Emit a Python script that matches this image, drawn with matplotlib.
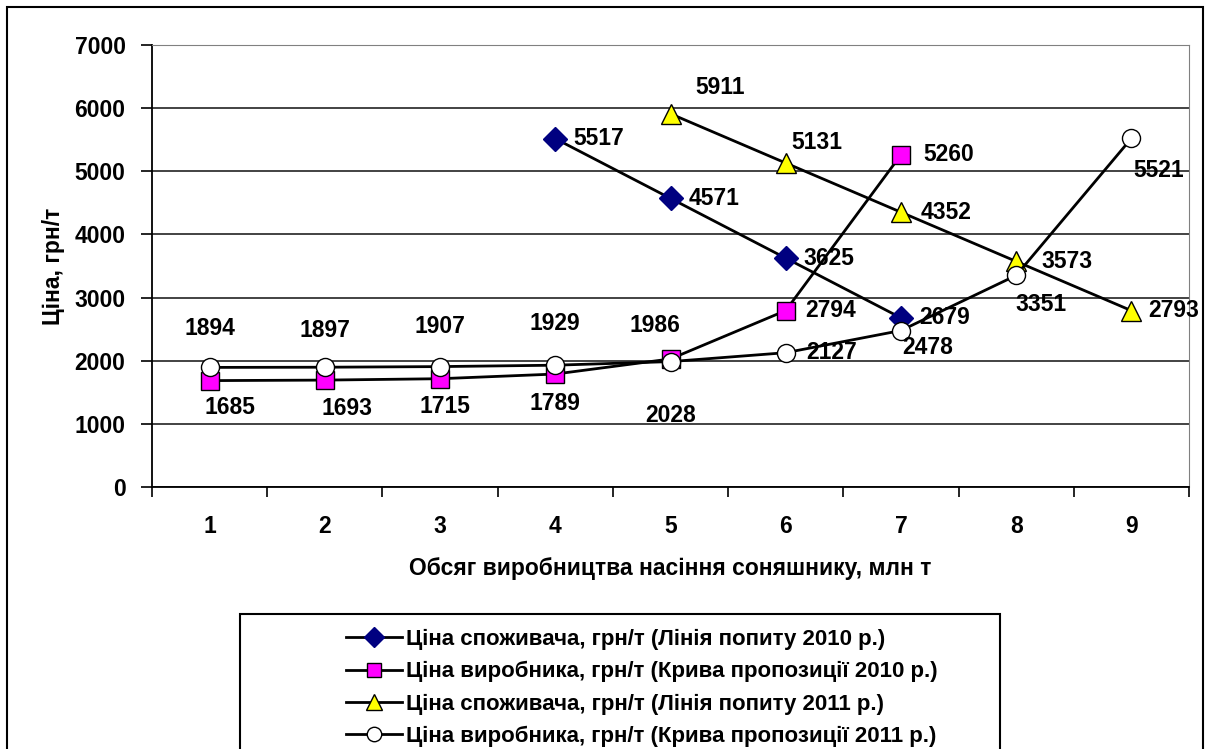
import numpy as np
import matplotlib.pyplot as plt
from matplotlib.patches import Rectangle

plt.rcParams['font.family'] = ['Liberation Sans', 'DejaVu Sans']
plt.rcParams['font.weight'] = 'bold'

# Дані
obsyag = [1, 2, 3, 4, 5, 6, 7, 8, 9]
nan = np.nan
popyt_2010 = [nan, nan, nan, 5517, 4571, 3625, 2679, nan, nan]
propoz_2010 = [1685, 1693, 1715, 1789, 2028, 2794, 5260, nan, nan]
popyt_2011 = [nan, nan, nan, nan, 5911, 5131, 4352, 3573, 2793]
propoz_2011 = [1894, 1897, 1907, 1929, 1986, 2127, 2478, 3351, 5521]

nazvy = ['Ціна споживача, грн/т (Лінія попиту 2010 р.)',
         'Ціна виробника, грн/т (Крива пропозиції 2010 р.)',
         'Ціна споживача, грн/т (Лінія попиту 2011 р.)',
         'Ціна виробника, грн/т (Крива пропозиції 2011 р.)']

# Зміщення підписів (пікселі) та вирівнювання
zsuv_popyt_2010 = [None, None, None, (18, 0, 'left')] + [(18, 0, 'left')] * 3 + [None, None]
zsuv_propoz_2010 = [(20, -27, 'center'), (22, -28, 'center'), (5, -28, 'center'), (0, -29, 'center'),
                    (0, -57, 'center'), (20, 0, 'left'), (22, 0, 'left'), None, None]
zsuv_popyt_2011 = [None] * 4 + [(50, 26, 'center'), (31, 21, 'center'), (20, 0, 'left'),
                                (25, 0, 'left'), (17, 0, 'left')]
zsuv_propoz_2011 = [(0, 39, 'center'), (0, 37, 'center'), (0, 40, 'center'), (0, 42, 'center'),
                    (-16, 36, 'center'), (21, 0, 'left'), (27, -17, 'center'), (25, -29, 'center'),
                    (27, -32, 'center')]

fig = plt.figure(figsize=(12.09, 7.49), dpi=100)
ax = fig.add_axes([152 / 1209, 1 - 487 / 749, (1189 - 152) / 1209, (487 - 45) / 749])

# Рамка навколо всієї діаграми
fig.patches.append(Rectangle((7 / 1209, -0.05), (1203 - 7) / 1209, 1.05 - 7 / 749,
                             transform=fig.transFigure, fill=False, edgecolor='black', lw=1.5))

serii = [
    (popyt_2010, dict(marker='D', markersize=12.5, markerfacecolor='#000080', markeredgecolor='#000080'), zsuv_popyt_2010),
    (propoz_2010, dict(marker='s', markersize=13, markerfacecolor='#FF00FF', markeredgecolor='black'), zsuv_propoz_2010),
    (popyt_2011, dict(marker='^', markersize=14, markerfacecolor='#FFFF00', markeredgecolor='black'), zsuv_popyt_2011),
    (propoz_2011, dict(marker='o', markersize=13, markerfacecolor='white', markeredgecolor='black'), zsuv_propoz_2011),
]

liniyi = []
for (dani, styl, zsuvy), nazva in zip(serii, nazvy):
    l, = ax.plot(obsyag, dani, color='black', lw=2, markeredgewidth=1, label=nazva, **styl)
    liniyi.append(l)
    for x, y, z in zip(obsyag, dani, zsuvy):
        if z is None or np.isnan(y):
            continue
        ax.annotate(f'{int(y)}', (x, y), xytext=(z[0], z[1]), textcoords='offset pixels',
                    ha=z[2], va='center', fontsize=16.5, fontweight='bold')

ax.set_xlim(0.5, 9.5)
ax.set_ylim(0, 7000)
ax.set_yticks(range(0, 7001, 1000))
ax.set_xticks(np.arange(0.5, 9.6, 1))
ax.set_xticklabels([])
ax.set_xticks(obsyag, minor=True)
ax.set_xticklabels([str(v) for v in obsyag], minor=True)
ax.tick_params(axis='x', which='major', direction='out', length=7, width=1.2)
ax.tick_params(axis='x', which='minor', length=0, pad=20, labelsize=16.5)
ax.tick_params(axis='y', direction='out', length=8, width=1.2, pad=11, labelsize=16.5)
for lab in ax.get_xticklabels(minor=True) + ax.get_yticklabels():
    lab.set_fontweight('bold')

ax.yaxis.grid(True, color='#222222', lw=1.2)
ax.set_axisbelow(True)
ax.spines['top'].set_color('#808080')
ax.spines['right'].set_color('#808080')
ax.spines['left'].set_linewidth(1.3)
ax.spines['bottom'].set_linewidth(1.3)

ax.set_xlabel('Обсяг виробництва насіння соняшнику, млн т', fontsize=16.5, fontweight='bold', labelpad=14)
ax.set_ylabel('Ціна, грн/т', fontsize=16.5, fontweight='bold', labelpad=7)

# Легенда
fig.patches.append(Rectangle((240 / 1209, -0.05), (1000 - 240) / 1209, 0.05 + (749 - 614) / 749,
                             transform=fig.transFigure, fill=False, edgecolor='black', lw=1.5))
fig.legend(handles=liniyi, loc='upper left', bbox_to_anchor=(326 / 1209, 1 - 609 / 749),
           frameon=False, handlelength=2.5, handletextpad=0.2,
           labelspacing=0.5, markerscale=0.8, prop={'weight': 'bold', 'size': 16})

fig.savefig('out.png', dpi=100)
